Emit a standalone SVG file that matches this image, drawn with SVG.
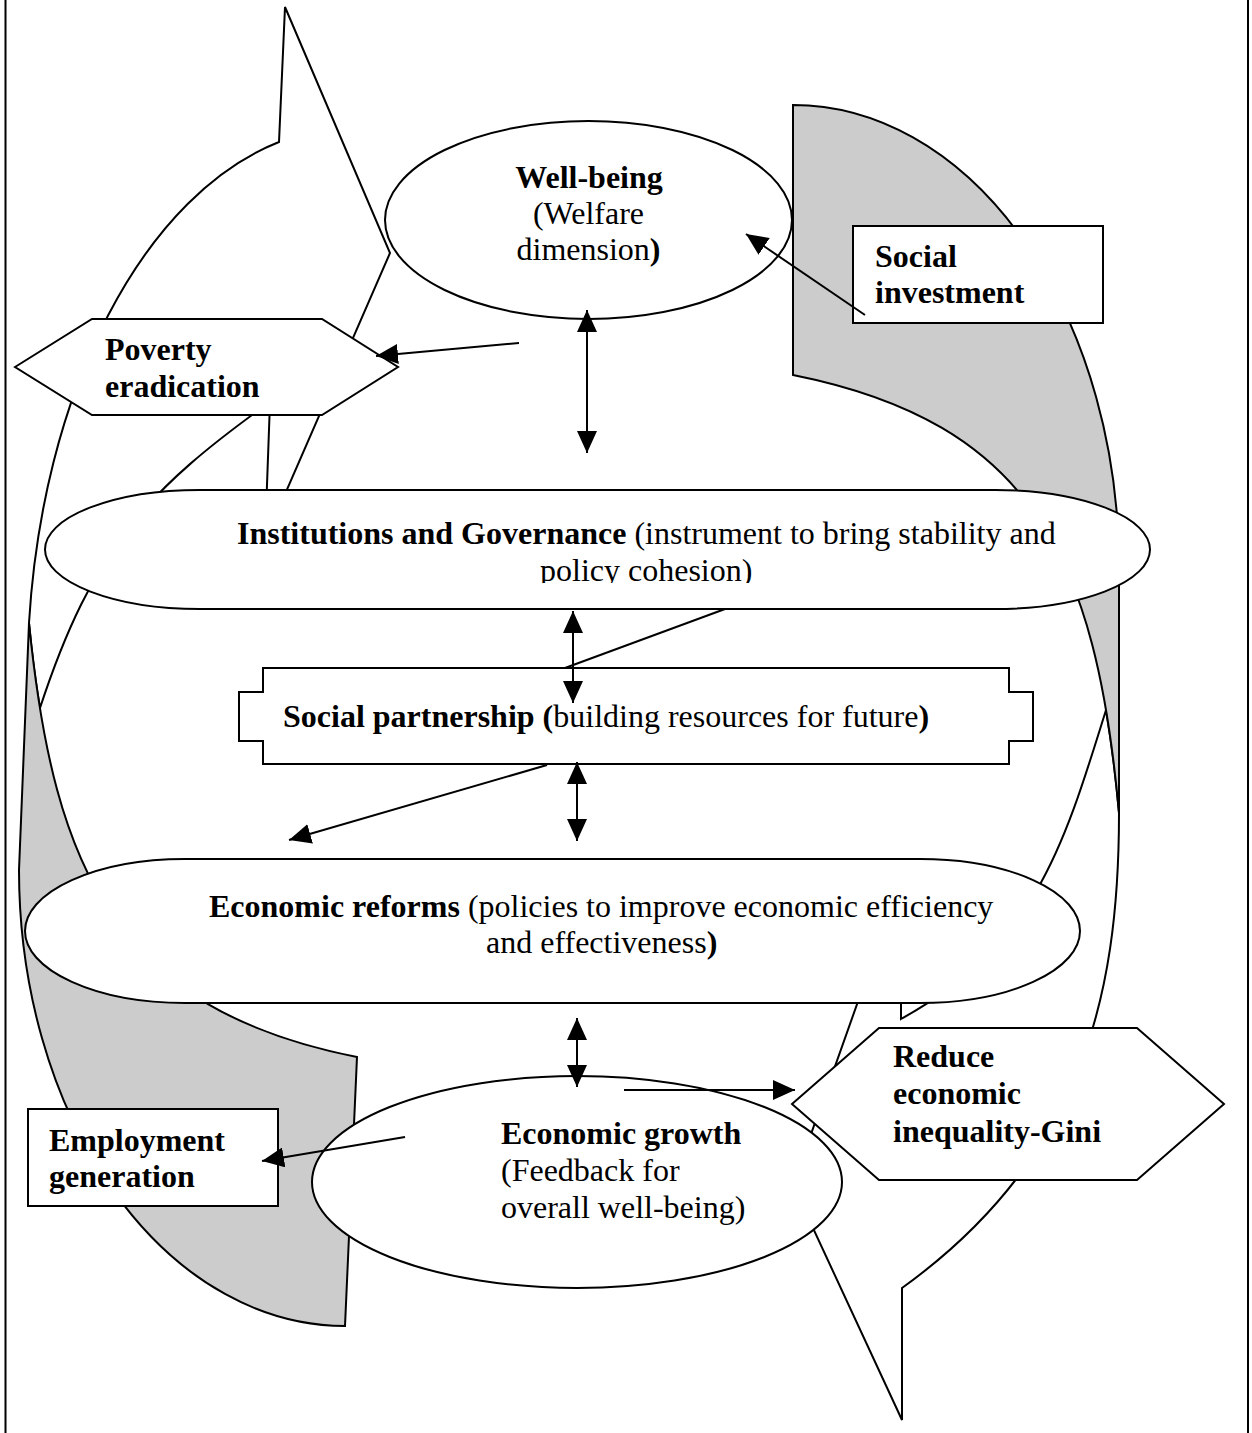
<svg xmlns="http://www.w3.org/2000/svg" width="1252" height="1433" viewBox="0 0 1252 1433">
  <style>
    .shape { fill: #ffffff; stroke: #000000; stroke-width: 2; stroke-linejoin: miter; }
    .back { fill: #cccccc; stroke: #000000; stroke-width: 2; stroke-linejoin: miter; }
    .t { font-family: "Liberation Serif", "Times New Roman", serif; font-size: 32px; fill: #000000; }
    .b { font-weight: bold; }
    .conn line { stroke: #000000; stroke-width: 2; fill: none; }
    .frame { stroke: #000000; stroke-width: 2; }
  </style>
  <defs>
    <marker id="ah" markerUnits="userSpaceOnUse" markerWidth="22" markerHeight="20" refX="22" refY="10" orient="auto-start-reverse" viewBox="0 0 22 20">
      <path d="M0,0 L22,10 L0,20 z" fill="#000000"/>
    </marker>
    <clipPath id="instClip">
      <rect x="45" y="490" width="1105" height="93"/>
    </clipPath>
  </defs>

  <rect x="0" y="0" width="1252" height="1433" fill="#ffffff"/>
  <line class="frame" x1="5.5" y1="0" x2="5.5" y2="1433"/>
  <line class="frame" x1="1248" y1="0" x2="1248" y2="1433"/>

  <!-- Big curved arrow, left side (front band pointing to Well-being, back part at bottom-left) -->
  <g id="cycle-arrow-left">
    <path class="shape" d="M279,142 L285,7 L390,253 L265,540 L270,402 C148.5,489 92.8,547 40,708 Q33.3,668.6 29,623 A326,551 0 0 1 279,142 Z"/>
    <path class="back" d="M357,1057 L345,1326 A326,456 0 0 1 19,870 L29,623 C54,873 117,1009 357,1057 Z"/>
  </g>

  <!-- Big curved arrow, right side (back part at top-right, front band pointing to Economic growth) -->
  <g id="cycle-arrow-right">
    <path class="shape" d="M902,1288 L902,1420 L793,1185 L901,880 L901,1019 C1033,945.5 1061.5,854 1106,710 Q1114.5,761.3 1119,813 C1119,1000 1080,1160 902,1288 Z"/>
    <path class="back" d="M793,375 L793,105 A326,462 0 0 1 1119,567 L1119,813 C1096,559 1033,423 793,375 Z"/>
  </g>

  <g id="well-being">
    <ellipse class="shape" cx="588.5" cy="220" rx="203.5" ry="99"/>
    <text class="t" text-anchor="middle"><tspan class="b" x="589" y="188">Well-being</tspan><tspan x="588.5" y="224">(Welfare</tspan><tspan x="588.5" y="260">dimension<tspan class="b">)</tspan></tspan></text>
  </g>

  <g id="social-investment">
    <rect class="shape" x="853" y="226" width="250" height="97"/>
    <text class="t b"><tspan x="875" y="267">Social</tspan><tspan x="875" y="303">investment</tspan></text>
  </g>

  <g id="poverty-eradication">
    <polygon class="shape" points="15,367 92,319 322,319 398,367 322,415 92,415"/>
    <text class="t b"><tspan x="105" y="360">Poverty</tspan><tspan x="105" y="397">eradication</tspan></text>
  </g>

  <g id="institutions-governance">
    <rect class="shape" x="45" y="490" width="1105" height="119" rx="155" ry="59.5"/>
    <text class="t" x="237" y="544"><tspan class="b">Institutions and Governance</tspan> (instrument to bring stability and</text>
    <text class="t" x="540" y="581" clip-path="url(#instClip)">policy cohesion)</text>
  </g>

  <g id="social-partnership">
    <path class="shape" d="M263,668 L1009,668 L1009,692 L1033,692 L1033,741 L1009,741 L1009,764 L263,764 L263,741 L239,741 L239,692 L263,692 Z"/>
    <text class="t" x="283" y="727"><tspan class="b">Social partnership (</tspan>building resources for future<tspan class="b">)</tspan></text>
  </g>

  <g id="economic-reforms">
    <rect class="shape" x="25" y="859" width="1055" height="144" rx="160" ry="72"/>
    <text class="t" x="209" y="917"><tspan class="b">Economic reforms</tspan> (policies to improve economic efficiency</text>
    <text class="t" x="486" y="953">and effectiveness<tspan class="b">)</tspan></text>
  </g>

  <g id="economic-growth">
    <ellipse class="shape" cx="577" cy="1182" rx="265" ry="106"/>
    <text class="t"><tspan class="b" x="501" y="1144">Economic growth</tspan><tspan x="501" y="1181">(Feedback for</tspan><tspan x="501" y="1218">overall well-being)</tspan></text>
  </g>

  <g id="employment-generation">
    <rect class="shape" x="28" y="1109" width="250" height="97"/>
    <text class="t b"><tspan x="49" y="1151">Employment</tspan><tspan x="49" y="1187">generation</tspan></text>
  </g>

  <g id="reduce-inequality">
    <polygon class="shape" points="792,1104 879,1028 1137,1028 1224,1104 1137,1180 879,1180"/>
    <text class="t b"><tspan x="893" y="1067">Reduce</tspan><tspan x="893" y="1104">economic</tspan><tspan x="893" y="1142">inequality-Gini</tspan></text>
  </g>

  <g id="connectors" class="conn">
    <line x1="587" y1="310" x2="587" y2="453" marker-start="url(#ah)" marker-end="url(#ah)"/>
    <line x1="519" y1="343" x2="376" y2="356" marker-end="url(#ah)"/>
    <line x1="865" y1="315" x2="746" y2="234" marker-end="url(#ah)"/>
    <line x1="573" y1="611" x2="573" y2="703" marker-start="url(#ah)" marker-end="url(#ah)"/>
    <line x1="725" y1="609" x2="565" y2="668"/>
    <line x1="577" y1="762" x2="577" y2="841" marker-start="url(#ah)" marker-end="url(#ah)"/>
    <line x1="547" y1="765" x2="289" y2="840" marker-end="url(#ah)"/>
    <line x1="577" y1="1018" x2="577" y2="1087" marker-start="url(#ah)" marker-end="url(#ah)"/>
    <line x1="624" y1="1090" x2="795" y2="1090" marker-end="url(#ah)"/>
    <line x1="405" y1="1137" x2="262" y2="1161" marker-end="url(#ah)"/>
  </g>
</svg>
